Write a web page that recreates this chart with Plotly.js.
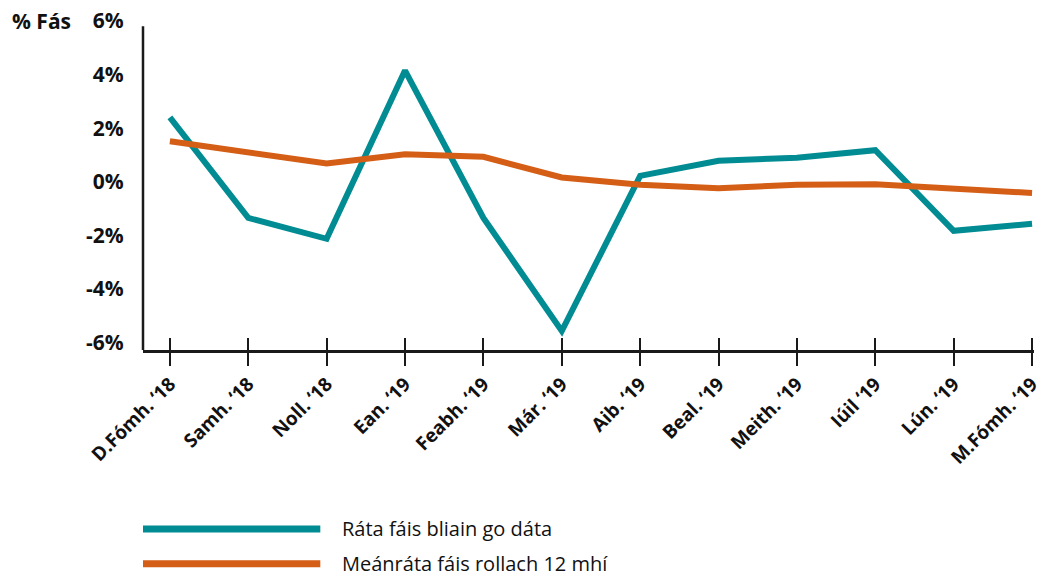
<!DOCTYPE html>
<html>
<head>
<meta charset="utf-8">
<script src="https://cdn.plot.ly/plotly-3.0.1.min.js"></script>
<style>html,body{margin:0;padding:0;background:#fff;}#chart{width:1044px;height:578px;}</style>
</head>
<body>
<div id="chart"></div>
<script>
const categories = ["D.Fómh. ‘18", "Samh. ‘18", "Noll. ‘18", "Ean. ‘19", "Feabh. ‘19", "Már. ‘19",
  "Aib. ‘19", "Beal. ‘19", "Meith. ‘19", "Iúil ‘19", "Lún. ‘19", "M.Fómh. ‘19"];
const ytdRate = [2.4, -1.35, -2.13, 4.15, -1.35, -5.57, 0.22, 0.78, 0.9, 1.18, -1.83, -1.57];
const rollingAvg = [1.51, 1.1, 0.68, 1.03, 0.93, 0.16, -0.11, -0.24, -0.11, -0.09, -0.27, -0.42];
const seriesNames = ["Ráta fáis bliain go dáta", "Meánráta fáis rollach 12 mhí"];
const seriesColors = ["#008C92", "#D55E16"];
const yTicks = [-6, -4, -2, 0, 2, 4, 6];
const yTickText = ["-6%", "-4%", "-2%", "0%", "2%", "4%", "6%"];
const yUnitLabel = "% Fás";

const idx = categories.map((_, i) => i);
const FONT = "'Open Sans', 'Noto Sans', sans-serif";
const bold = s => "<b>" + s + "</b>";

const traces = [
  {x: idx, y: ytdRate, type: "scatter", mode: "lines", name: seriesNames[0],
   line: {color: seriesColors[0], width: 6}, showlegend: false, hoverinfo: "skip"},
  {x: idx, y: rollingAvg, type: "scatter", mode: "lines", name: seriesNames[1],
   line: {color: seriesColors[1], width: 6}, showlegend: false, hoverinfo: "skip"},
  {x: [idx[0]], y: [0], xaxis: "x2", type: "scatter", mode: "none", showlegend: false, hoverinfo: "skip"}
];

const legY = [-0.544, -0.650];
const shapes = [
  {type: "line", xref: "paper", yref: "y", x0: 0, x1: 0, y0: -6.28, y1: 5.8,
   line: {color: "#1a1a1a", width: 2.5}}
];
const annotations = [
  {xref: "paper", yref: "paper", x: -0.149, y: 1.0, xanchor: "left", yanchor: "middle",
   text: bold(yUnitLabel), showarrow: false, font: {family: FONT, size: 21, color: "#111"}}
];
seriesNames.forEach((n, i) => {
  shapes.push({type: "line", xref: "paper", yref: "paper", x0: 0.0, x1: 0.199, y0: legY[i], y1: legY[i],
    line: {color: seriesColors[i], width: 7}});
  annotations.push({xref: "paper", yref: "paper", x: 0.2216, y: legY[i], xanchor: "left", yanchor: "middle",
    text: n, showarrow: false, font: {family: FONT, size: 20, color: "#111"}});
});

const xr = [-0.343, 11.025];
const layout = {
  width: 1044, height: 578,
  margin: {l: 143, r: 10, t: 21, b: 228},
  paper_bgcolor: "#fff", plot_bgcolor: "#fff",
  showlegend: false,
  font: {family: FONT, color: "#111"},
  xaxis: {
    type: "linear", range: xr, tickmode: "array", tickvals: idx, ticktext: categories.map(bold),
    tickangle: -45, tickfont: {family: FONT, size: 19, color: "#111"},
    ticklabeloverflow: "allow",
    ticks: "outside", ticklen: 13, tickwidth: 2, tickcolor: "#1a1a1a",
    showline: true, linewidth: 2.5, linecolor: "#1a1a1a", showgrid: false, zeroline: false,
    fixedrange: true
  },
  xaxis2: {
    type: "linear", overlaying: "x", anchor: "y", side: "bottom", range: xr,
    tickmode: "array", tickvals: idx, showticklabels: false,
    ticks: "inside", ticklen: 12, tickwidth: 2, tickcolor: "#1a1a1a",
    showline: false, showgrid: false, zeroline: false, fixedrange: true
  },
  yaxis: {
    range: [-6.28, 6.0], tickmode: "array", tickvals: yTicks, ticktext: yTickText.map(bold),
    tickfont: {family: FONT, size: 21, color: "#111"},
    ticks: "outside", ticklen: 14, tickcolor: "rgba(0,0,0,0)",
    showline: false, showgrid: false, zeroline: false, fixedrange: true
  },
  shapes: shapes,
  annotations: annotations
};

Plotly.newPlot("chart", traces, layout, {displayModeBar: false, staticPlot: true});
</script>
</body>
</html>
